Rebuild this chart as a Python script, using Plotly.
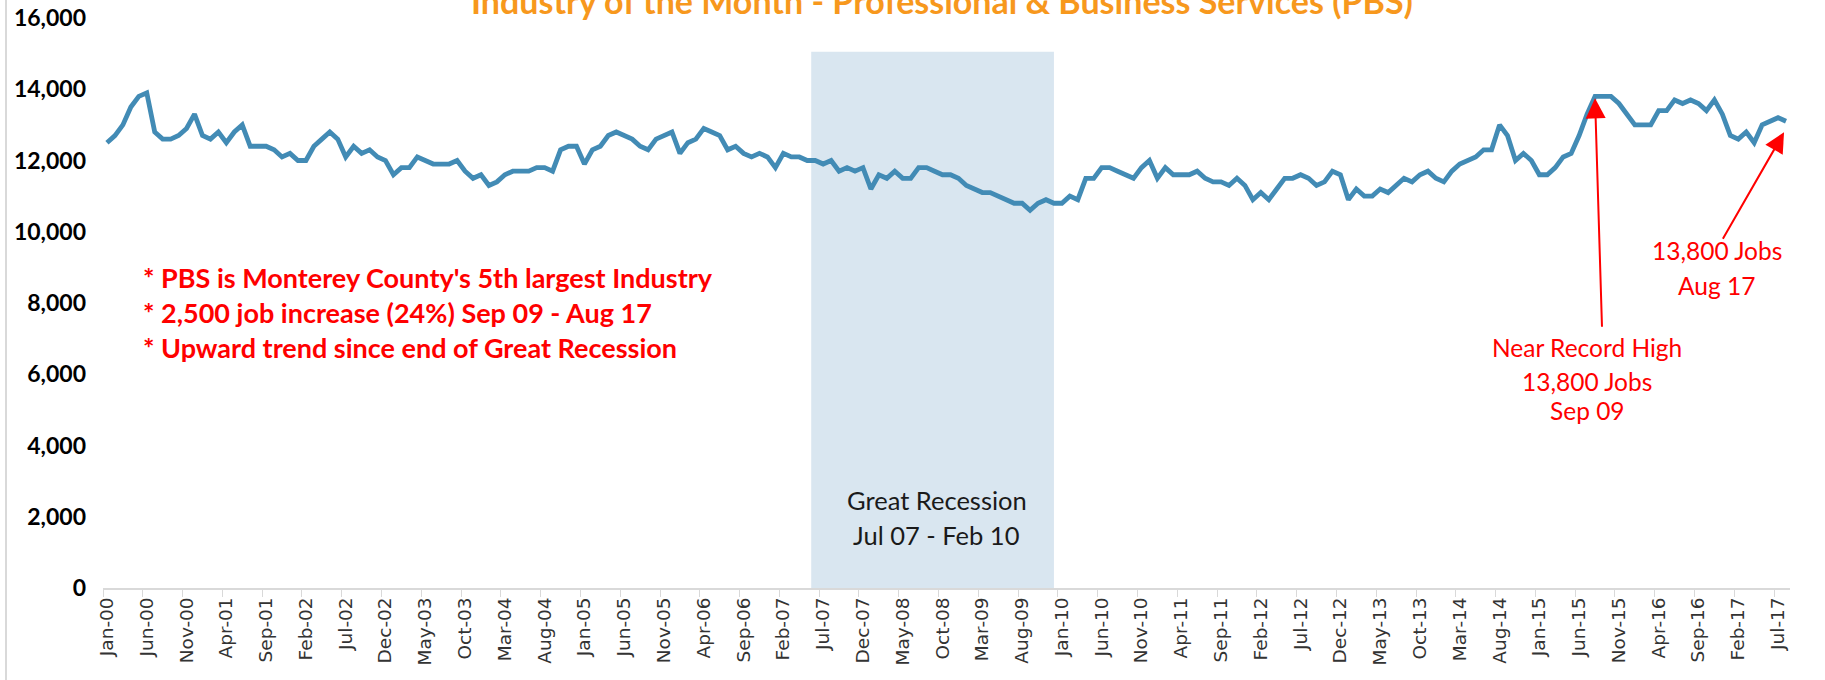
import pandas as pd
import plotly.graph_objects as go

# ---------------- data ----------------
months = list(pd.date_range("2000-01-01", periods=212, freq="MS").strftime("%b-%y"))

jobs = [
    12500, 12700, 13000, 13500, 13800, 13900, 12800, 12600, 12600, 12700,
    12900, 13300, 12700, 12600, 12800, 12500, 12800, 13000, 12400, 12400,
    12400, 12300, 12100, 12200, 12000, 12000, 12400, 12600, 12800, 12600,
    12100, 12400, 12200, 12300, 12100, 12000,
    11600, 11800, 11800, 12100, 12000, 11900, 11900, 11900, 12000, 11700,
    11500, 11600, 11300, 11400, 11600, 11700, 11700, 11700, 11800, 11800,
    11700, 12300, 12400, 12400, 11900, 12300, 12400, 12700, 12800, 12700,
    12600, 12400, 12300, 12600, 12700,
    12800, 12200, 12500, 12600, 12900, 12800, 12700, 12300, 12400, 12200,
    12100, 12200, 12100, 11800, 12200, 12100, 12100, 12000, 12000, 11900,
    12000, 11700, 11800, 11700, 11800, 11200, 11600, 11500, 11700, 11500,
    11500, 11800, 11800, 11700, 11600,
    11600, 11500, 11300, 11200, 11100, 11100, 11000, 10900, 10800, 10800,
    10600, 10800, 10900, 10800, 10800, 11000, 10900, 11500, 11500, 11800,
    11800, 11700, 11600, 11500, 11800, 12000, 11500, 11800, 11600, 11600,
    11600, 11700, 11500, 11400, 11400,
    11300, 11500, 11300, 10900, 11100, 10900, 11200, 11500, 11500, 11600,
    11500, 11300, 11400, 11700, 11600, 10900, 11200, 11000, 11000, 11200,
    11100, 11300, 11500, 11400, 11600, 11700, 11500, 11400, 11700, 11900,
    12000, 12100, 12300, 12300, 13000,
    12700, 12000, 12200, 12000, 11600, 11600, 11800, 12100, 12200, 12700,
    13300, 13800, 13800, 13800, 13600, 13300, 13000, 13000, 13000, 13400,
    13400, 13700, 13600, 13700, 13600, 13400, 13700, 13300, 12700, 12600,
    12800, 12500, 13000, 13100, 13200, 13100,
]

y_ticks = [0, 2000, 4000, 6000, 8000, 10000, 12000, 14000, 16000]
recession_start = 88.5   # category index (just before Jul-07)
recession_end = 119.0    # category index (end of Dec-09)
recession_top = 15050

title = "Industry of the Month - Professional & Business Services (PBS)"
bullets = [
    "* PBS is Monterey County's 5th largest Industry",
    "* 2,500 job increase (24%) Sep 09 - Aug 17",
    "* Upward trend since end of Great Recession",
]

# ---------------- figure ----------------
fig = go.Figure()

fig.add_shape(type="rect", xref="x", yref="y",
              x0=recession_start, x1=recession_end, y0=0, y1=recession_top,
              fillcolor="#D9E6F0", line_width=0, layer="below")

fig.add_trace(go.Scatter(
    x=months, y=jobs, mode="lines",
    line=dict(color="#428BB5", width=4.8),
    hoverinfo="x+y", showlegend=False,
))

# left frame line of the chart area
fig.add_shape(type="line", xref="paper", yref="paper",
              x0=-0.0575, x1=-0.0575, y0=-0.2, y1=1.05,
              line=dict(color="#D9D9D9", width=2))

RED = "#FF0000"
FONT = "Lato, 'Open Sans', sans-serif"

anns = []
# title (partially cut off at top, as in the reference)
anns.append(dict(xref="paper", yref="paper", x=0.4975, y=0.992, yanchor="bottom",
                 xanchor="center", text="<b>" + title + "</b>", showarrow=False,
                 font=dict(family=FONT, size=34, color="#F7981D")))
# bullets
for txt, yv in zip(bullets, [8724, 7742, 6760]):
    anns.append(dict(xref="x", yref="y", x=4.3, y=yv, xanchor="left",
                     yanchor="middle", text="<b>" + txt + "</b>", showarrow=False,
                     font=dict(family=FONT, size=27, color=RED)))
# recession text
for txt, yv in zip(["Great Recession", "Jul 07 - Feb 10"], [2468, 1487]):
    anns.append(dict(xref="x", yref="y", x=104.3, y=yv, xanchor="center",
                     yanchor="middle", text=txt, showarrow=False,
                     font=dict(family=FONT, size=25.5, color="#1A1A1A")))
# near record high
for txt, yv in zip(["Near Record High", "13,800 Jobs", "Sep 09"], [6760, 5806, 4993]):
    anns.append(dict(xref="x", yref="y", x=186, y=yv, xanchor="center",
                     yanchor="middle", text=txt, showarrow=False,
                     font=dict(family=FONT, size=24.5, color=RED)))
for txt, yv in zip(["13,800 Jobs", "Aug 17"], [9481, 8500]):
    anns.append(dict(xref="x", yref="y", x=202.3, y=yv, xanchor="center",
                     yanchor="middle", text=txt, showarrow=False,
                     font=dict(family=FONT, size=24.5, color=RED)))
# arrows
anns.append(dict(xref="x", yref="y", x=187, y=13745, ax=7, ay=230, text="",
                 showarrow=True, arrowhead=2, arrowsize=2.0, arrowwidth=2,
                 arrowcolor=RED, standoff=0))
anns.append(dict(xref="x", yref="y", x=210.75, y=12790, ax=-62, ay=108, text="",
                 showarrow=True, arrowhead=2, arrowsize=2.0, arrowwidth=2,
                 arrowcolor=RED, standoff=0))

fig.update_layout(
    width=1825, height=680, autosize=False,
    margin=dict(l=103, r=35, t=18, b=92),
    paper_bgcolor="white", plot_bgcolor="white",
    annotations=anns,
    xaxis=dict(
        type="category", range=[-0.5, 211.5], automargin=False,
        dtick=5, tickson="boundaries", ticks="outside", ticklen=7,
        tickcolor="#D9D9D9", tickwidth=1,
        showline=True, linecolor="#D9D9D9", linewidth=2,
        showgrid=False, zeroline=False,
        tickangle=-90, tickfont=dict(family="DejaVu Sans", size=18.5, color="#333333"),
    ),
    yaxis=dict(
        range=[0, 16000], tickvals=y_ticks, tickformat=",d", automargin=False,
        showgrid=False, zeroline=False, showline=False, ticks="",
        ticklabelstandoff=16,
        tickfont=dict(family=FONT, size=23, color="black", weight="bold"),
    ),
)

fig.write_html("out.html")
